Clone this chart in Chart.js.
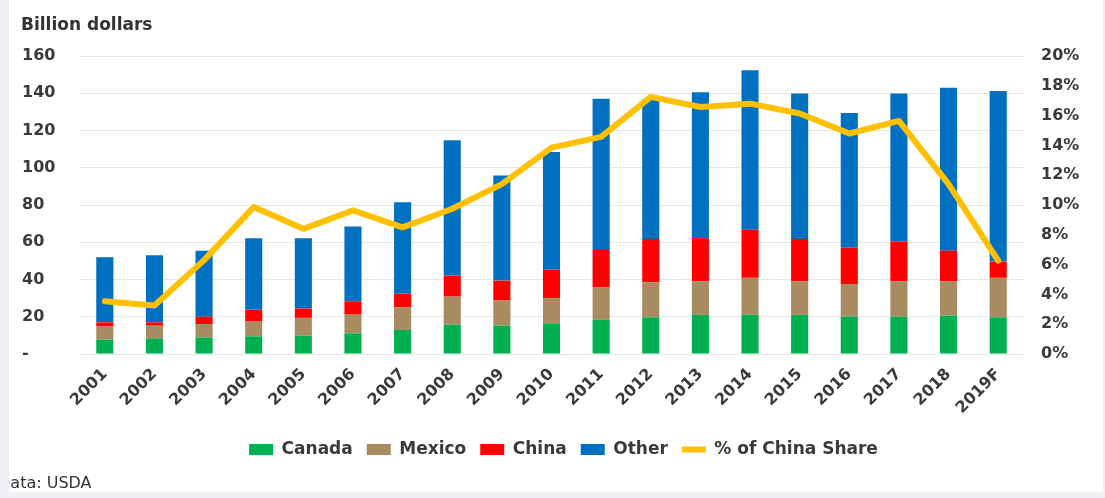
<!DOCTYPE html>
<html>
<head>
<meta charset="utf-8">
<script src="https://cdn.jsdelivr.net/npm/chart.js@4"></script>
<style>
  html, body { margin: 0; padding: 0; background: #eef0f3; }
  #wrap { position: relative; width: 1105px; height: 498px; overflow: hidden; }
  #panel { position: absolute; left: 9px; top: 0; width: 1094px; height: 492px; background: #ffffff; }
  #c { position: absolute; left: 0; top: 0; }
  #ytitle { position: absolute; left: 21px; top: 14px; font: bold 17px "DejaVu Sans", sans-serif; line-height: 20px; color: #333333; white-space: nowrap; }
  #source { position: absolute; left: -2px; top: 473px; font: 16px "DejaVu Sans", sans-serif; line-height: 20px; color: #333333; white-space: nowrap; }
  #strip { position: absolute; left: 0; top: 0; width: 9px; height: 498px; background: #eef0f3; }
</style>
</head>
<body>
<div id="wrap">
  <div id="panel"></div>
  <canvas id="c" width="1105" height="498"></canvas>
  <div id="ytitle">Billion dollars</div>
  <div id="source">Data: USDA</div>
  <div id="strip"></div>
</div>
<script>
const categories = ['2001','2002','2003','2004','2005','2006','2007','2008','2009','2010','2011','2012','2013','2014','2015','2016','2017','2018','2019F'];
const canada = [7.7, 8.4, 8.9, 9.5, 9.8, 11.1, 12.9, 15.8, 15.2, 16.1, 18.3, 19.7, 21.0, 21.1, 21.0, 20.1, 20.1, 20.6, 19.7];
const mexico = [7.0, 6.8, 7.2, 7.9, 9.6, 10.0, 12.2, 15.0, 13.5, 14.0, 17.5, 18.8, 18.0, 19.8, 18.0, 17.5, 18.9, 18.4, 21.2];
const china = [2.3, 1.8, 3.9, 6.3, 5.1, 7.2, 7.2, 11.3, 10.7, 15.1, 20.1, 23.3, 23.2, 25.8, 22.8, 19.4, 21.5, 16.5, 8.7];
const other = [35.0, 36.0, 35.5, 38.5, 37.7, 40.1, 49.2, 72.6, 56.5, 63.2, 81.2, 75.0, 78.4, 85.6, 78.0, 72.4, 79.3, 87.5, 91.6];
const chinaShare = [3.54, 3.25, 6.3, 9.86, 8.4, 9.64, 8.5, 9.75, 11.4, 13.85, 14.57, 17.26, 16.58, 16.8, 16.14, 14.8, 15.64, 11.4, 6.27];
const leftTickLabels = ['-', '20', '40', '60', '80', '100', '120', '140', '160'];
const rightTickLabels = ['0%', '2%', '4%', '6%', '8%', '10%', '12%', '14%', '16%', '18%', '20%'];

const textColor = '#3a3a3a';
const tickFont = { family: 'DejaVu Sans', weight: 'bold', size: 16 };

const barCommon = { yAxisID: 'y', stack: 's', order: 1, barPercentage: 0.345, categoryPercentage: 1.0, borderWidth: 0, pointStyle: 'rect' };

new Chart(document.getElementById('c'), {
  type: 'bar',
  data: {
    labels: categories,
    datasets: [
      Object.assign({ label: 'Canada', data: canada, backgroundColor: '#00b050' }, barCommon),
      Object.assign({ label: 'Mexico', data: mexico, backgroundColor: '#a98b62' }, barCommon),
      Object.assign({ label: 'China', data: china, backgroundColor: '#ff0000' }, barCommon),
      Object.assign({ label: 'Other', data: other, backgroundColor: '#0070c0' }, barCommon),
      {
        type: 'line', label: '% of China Share', data: chinaShare, yAxisID: 'y1', order: 0,
        borderColor: '#ffc000', backgroundColor: '#ffc000', borderWidth: 6,
        pointRadius: 0, pointHoverRadius: 0, tension: 0, pointStyle: 'line',
        borderJoinStyle: 'round', borderCapStyle: 'round', fill: false
      }
    ]
  },
  options: {
    responsive: false,
    animation: false,
    layout: { padding: { left: 22, right: 0, top: 56, bottom: 30 } },
    plugins: {
      title: { display: false },
      tooltip: { enabled: false },
      legend: {
        position: 'bottom',
        labels: {
          sort: (a, b) => a.datasetIndex - b.datasetIndex,
          usePointStyle: true, pointStyleWidth: 24,
          boxWidth: 24, boxHeight: 11, padding: 14,
          color: textColor,
          font: { family: 'DejaVu Sans', weight: 'bold', size: 17 }
        }
      }
    },
    scales: {
      x: {
        stacked: true,
        grid: { display: false, drawTicks: false },
        border: { display: false },
        ticks: { autoSkip: false, minRotation: 45, maxRotation: 45, padding: 11, color: textColor, font: tickFont },
        afterFit: (s) => { s.height = 73; }
      },
      y: {
        position: 'left', stacked: true, min: 0, max: 160,
        grid: { color: '#e6e6e6', lineWidth: 1, drawTicks: false },
        border: { display: false },
        ticks: { stepSize: 20, crossAlign: 'far', padding: 0, color: textColor, font: tickFont,
          callback: (v) => leftTickLabels[Math.round(v / 20)] },
        afterFit: (s) => { s.width = 58; }
      },
      y1: {
        position: 'right', stacked: false, min: 0, max: 20,
        grid: { display: false, drawTicks: false },
        border: { display: false },
        ticks: { stepSize: 2, padding: 18, color: textColor, font: tickFont,
          callback: (v) => rightTickLabels[Math.round(v / 2)] },
        afterFit: (s) => { s.width = 82; }
      }
    }
  }
});
</script>
</body>
</html>
